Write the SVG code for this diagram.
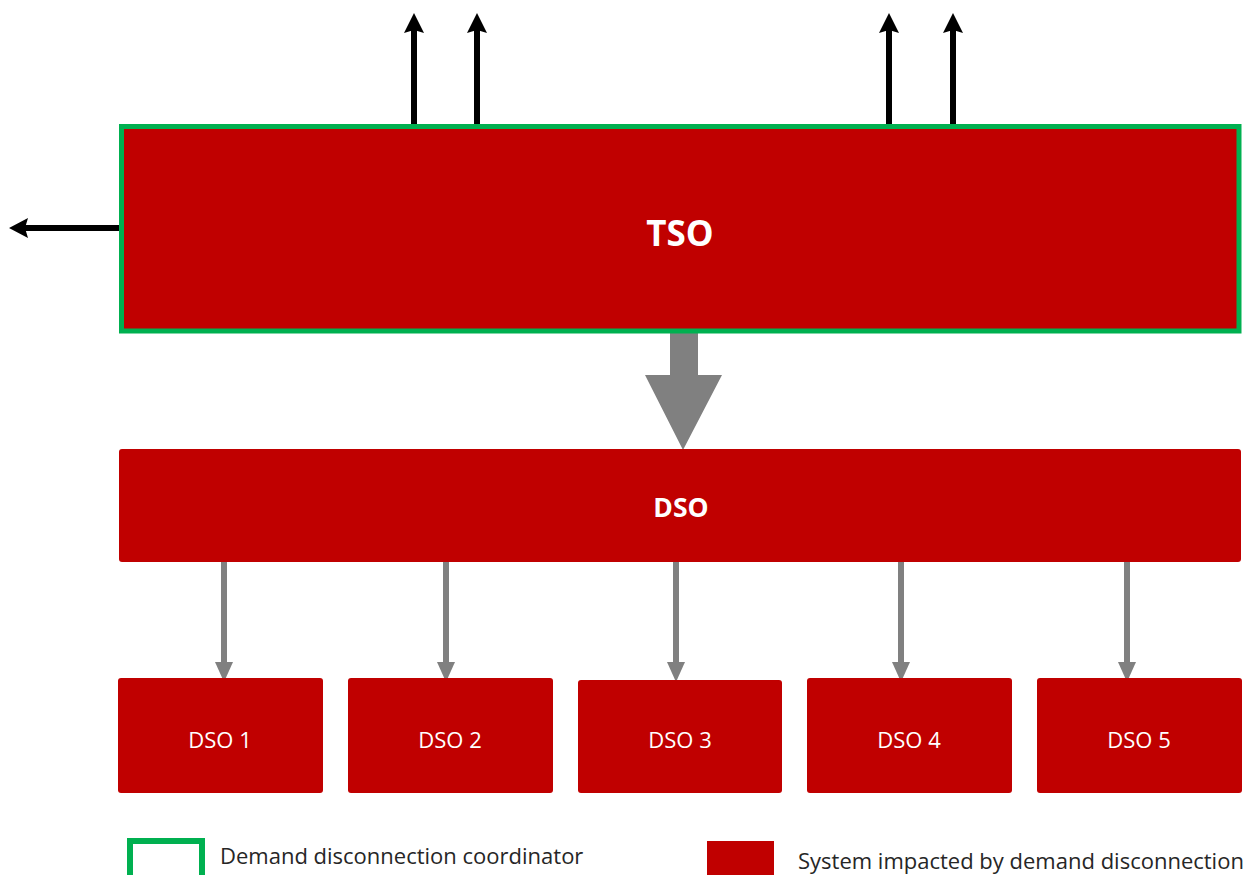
<svg xmlns="http://www.w3.org/2000/svg" width="1252" height="875" viewBox="0 0 1252 875">
<style>
.red{fill:#C00000}
.lbl{fill:#FFFFFF;font-family:"Open Sans","Liberation Sans",sans-serif;text-anchor:middle;dominant-baseline:central}
.b{font-weight:bold}
.blk{stroke:#000;stroke-width:6;fill:none}
.hb{fill:#000}
.gry{stroke:#808080;stroke-width:6;fill:none}
.hg{fill:#808080}
.leg{font-family:"Open Sans","Liberation Sans",sans-serif;font-size:22px;fill:#262626}
</style>
<rect width="1252" height="875" fill="#fff"/>
<g id="connectors">
<line class="blk" x1="119" y1="228" x2="25" y2="228"/>
<path class="hb" d="M9,228 L28,218 L25,228 L28,238 Z"/>
<line class="blk" x1="414" y1="126" x2="414" y2="30"/>
<path class="hb" d="M414,13 L424,33 L414,30 L404,33 Z"/>
<line class="blk" x1="477" y1="126" x2="477" y2="30"/>
<path class="hb" d="M477,13 L487,33 L477,30 L467,33 Z"/>
<line class="blk" x1="889" y1="126" x2="889" y2="30"/>
<path class="hb" d="M889,13 L899,33 L889,30 L879,33 Z"/>
<line class="blk" x1="953" y1="126" x2="953" y2="30"/>
<path class="hb" d="M953,13 L963,33 L953,30 L943,33 Z"/>
<path d="M670,333 L698,333 L698,375 L722,375 L683,450 L645,375 L670,375 Z" fill="#808080"/>
<line class="gry" x1="224" y1="562" x2="224" y2="664"/>
<path class="hg" d="M215,662 L233,662 L224,682 Z"/>
<line class="gry" x1="446" y1="562" x2="446" y2="664"/>
<path class="hg" d="M437,662 L455,662 L446,682 Z"/>
<line class="gry" x1="676" y1="562" x2="676" y2="664"/>
<path class="hg" d="M667,662 L685,662 L676,682 Z"/>
<line class="gry" x1="901" y1="562" x2="901" y2="664"/>
<path class="hg" d="M892,662 L910,662 L901,682 Z"/>
<line class="gry" x1="1127" y1="562" x2="1127" y2="664"/>
<path class="hg" d="M1118,662 L1136,662 L1127,682 Z"/>
</g>
<g id="tso">
<rect x="121.5" y="126.5" width="1117.5" height="204.5" class="red" stroke="#00B050" stroke-width="5"/>
<text x="680" y="232" class="lbl b" font-size="35">TSO</text>
</g>
<g id="dso">
<rect x="119" y="449" width="1122" height="113" rx="3" class="red"/>
<text x="681" y="507" class="lbl b" font-size="26.5">DSO</text>
</g>
<g id="dso1"><rect x="118" y="678" width="205" height="115" rx="3" class="red"/><text x="220" y="739" class="lbl" font-size="22">DSO 1</text></g>
<g id="dso2"><rect x="348" y="678" width="205" height="115" rx="3" class="red"/><text x="450" y="739" class="lbl" font-size="22">DSO 2</text></g>
<g id="dso3"><rect x="578" y="680" width="204" height="113" rx="3" class="red"/><text x="680" y="739" class="lbl" font-size="22">DSO 3</text></g>
<g id="dso4"><rect x="807" y="678" width="205" height="115" rx="3" class="red"/><text x="909" y="739" class="lbl" font-size="22">DSO 4</text></g>
<g id="dso5"><rect x="1037" y="678" width="205" height="115" rx="3" class="red"/><text x="1139" y="739" class="lbl" font-size="22">DSO 5</text></g>
<g id="legend-coordinator">
<rect x="130" y="841" width="72" height="40" fill="#fff" stroke="#00B050" stroke-width="6"/>
<text x="220" y="864" class="leg">Demand disconnection coordinator</text>
</g>
<g id="legend-impacted">
<rect x="707" y="841" width="67" height="40" class="red"/>
<text x="798" y="869" class="leg">System impacted by demand disconnection</text>
</g>
</svg>
